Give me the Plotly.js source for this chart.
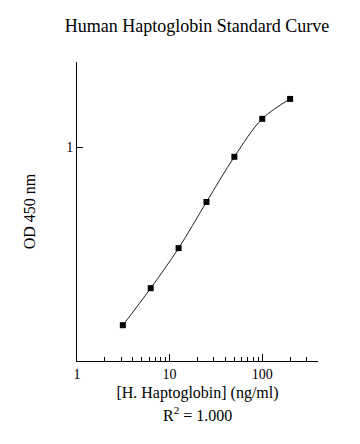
<!DOCTYPE html>
<html>
<head>
<meta charset="utf-8">
<script src="https://cdn.plot.ly/plotly-3.0.1.min.js"></script>
<style>html,body{margin:0;padding:0;background:#fff;}#chart{width:360px;height:444px;}</style>
</head>
<body>
<div id="chart"></div>
<script>
const concentration = [3.125, 6.25, 12.5, 25, 50, 100, 200];
const od450 = [0.147, 0.219, 0.337, 0.554, 0.901, 1.356, 1.68];
const xTickVals = [1, 10, 100];
const xTickText = ["1", "10", "100"];
const yTickVals = [1];
const yTickText = ["1"];
const serif = "Liberation Serif, Times New Roman, serif";

const trace = {
  x: concentration,
  y: od450,
  mode: "lines+markers",
  type: "scatter",
  line: {shape: "spline", smoothing: 1, color: "#222", width: 1},
  marker: {symbol: "square", size: 6, color: "#000"},
  hoverinfo: "x+y"
};

const layout = {
  width: 360, height: 444,
  margin: {l: 77, r: 42, t: 62, b: 83},
  paper_bgcolor: "#fff", plot_bgcolor: "#fff",
  showlegend: false,
  font: {family: serif, color: "#000", size: 14},
  title: {text: "Human Haptoglobin Standard Curve", font: {family: serif, size: 18, color: "#000"}, x: 0.547, xanchor: "center", y: 0.943, yanchor: "middle"},
  xaxis: {
    type: "log", range: [0, Math.log10(400)],
    tickvals: xTickVals, ticktext: xTickText,
    ticks: "inside", ticklen: 7, tickcolor: "#000", tickwidth: 1,
    minor: {ticks: "inside", ticklen: 4, tickcolor: "#000", tickwidth: 1, dtick: "D1", showgrid: false},
    showline: true, linecolor: "#000", linewidth: 1, mirror: false,
    showgrid: false, zeroline: false,
    tickfont: {family: serif, size: 14, color: "#000"},
    title: {text: "[H. Haptoglobin] (ng/ml)", font: {family: serif, size: 16, color: "#000"}, standoff: 6}
  },
  yaxis: {
    type: "log", range: [-1, Math.log10(2.5)],
    tickvals: yTickVals, ticktext: yTickText,
    ticks: "inside", ticklen: 6, tickcolor: "#000", tickwidth: 1,
    showline: true, linecolor: "#000", linewidth: 1, mirror: false,
    showgrid: false, zeroline: false,
    tickfont: {family: serif, size: 14, color: "#000"},
    title: {text: "OD 450 nm", font: {family: serif, size: 16, color: "#000"}, standoff: 26}
  },
  annotations: [{
    text: "R<sup>2</sup> = 1.000", xref: "paper", yref: "paper",
    x: 0.5, y: -0.137, xanchor: "center", yanchor: "top", showarrow: false,
    font: {family: serif, size: 16, color: "#000"}
  }]
};

Plotly.newPlot("chart", [trace], layout, {displayModeBar: false, staticPlot: true});
</script>
</body>
</html>
